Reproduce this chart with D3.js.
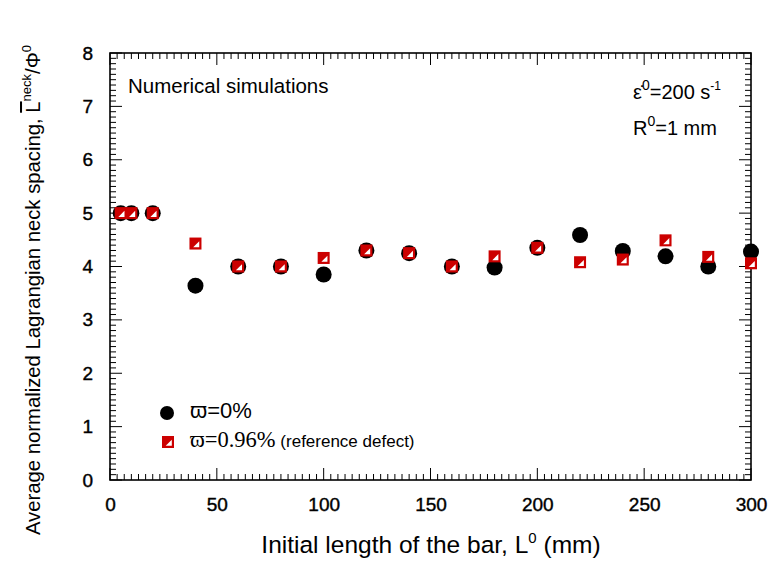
<!DOCTYPE html>
<html><head><meta charset="utf-8">
<script src="https://cdn.jsdelivr.net/npm/d3@7"></script>
<style>body{margin:0;background:#fff}svg{display:block}text{font-family:"Liberation Sans",Arial,sans-serif}</style>
</head><body><div id="c"></div>
<script>
const xValues = [5, 10, 20, 40, 60, 80, 100, 120, 140, 160, 180, 200, 220, 240, 260, 280, 300];
const series0 = [5.0, 5.0, 5.0, 3.64, 4.0, 4.0, 3.85, 4.3, 4.25, 4.0, 3.98, 4.35, 4.59, 4.29, 4.19, 4.0, 4.28];
const series096 = [5.0, 5.0, 5.0, 4.43, 4.0, 4.0, 4.16, 4.3, 4.25, 4.0, 4.19, 4.35, 4.08, 4.13, 4.49, 4.18, 4.06];
const xTicks = [0, 50, 100, 150, 200, 250, 300];
const yTicks = [0, 1, 2, 3, 4, 5, 6, 7, 8];
const legendLabels = ["\u03D6=0%", "\u03D6=0.96%"];

const W = 769, H = 561;
const svg = d3.select("#c").append("svg").attr("width", W).attr("height", H);
const L = 110, R = 751, T = 53, B = 480;
const x = d3.scaleLinear().domain([0, 300]).range([L, R]);
const y = d3.scaleLinear().domain([0, 8]).range([B, T]);
const red = "#cc0000";

// minor ticks
const xMinor = d3.range(0, 300.001, 50/15);
const yMinor = d3.range(0, 8.001, 0.1);
const tk = svg.append("g").attr("stroke", "#000").attr("stroke-width", 1);
xMinor.forEach(v => {
  const major = Math.abs(v/50 - Math.round(v/50)) < 1e-6;
  const len = major ? 12 : 6;
  tk.append("line").attr("x1", x(v)).attr("x2", x(v)).attr("y1", B).attr("y2", B - len);
  tk.append("line").attr("x1", x(v)).attr("x2", x(v)).attr("y1", T).attr("y2", T + len);
});
yMinor.forEach(v => {
  const major = Math.abs(v - Math.round(v)) < 1e-6;
  const len = major ? 12 : 6;
  tk.append("line").attr("y1", y(v)).attr("y2", y(v)).attr("x1", L).attr("x2", L + len);
  tk.append("line").attr("y1", y(v)).attr("y2", y(v)).attr("x1", R).attr("x2", R - len);
});
svg.append("rect").attr("x", L).attr("y", T).attr("width", R - L).attr("height", B - T)
  .attr("fill", "none").attr("stroke", "#000").attr("stroke-width", 1.6);

// tick labels via d3 axes (no lines)
const xAxis = svg.append("g").attr("transform", `translate(0,${B})`)
  .call(d3.axisBottom(x).tickValues(xTicks).tickSize(0).tickPadding(18));
const yAxis = svg.append("g").attr("transform", `translate(${L},0)`)
  .call(d3.axisLeft(y).tickValues(yTicks).tickSize(0).tickPadding(17));
[xAxis, yAxis].forEach(g => {
  g.select(".domain").remove();
  g.selectAll("text").attr("font-family", "Liberation Sans, Arial, sans-serif")
    .attr("font-size", 19).attr("fill", "#000").attr("stroke", "#000").attr("stroke-width", 0.4);
});

// axis titles
const xt = svg.append("text").attr("x", 431).attr("y", 553).attr("text-anchor", "middle")
  .attr("font-size", 24.5).attr("fill", "#000");
xt.append("tspan").text("Initial length of the bar, L");
xt.append("tspan").attr("dy", -10).attr("font-size", 15).text("0");
xt.append("tspan").attr("dy", 10).text(" (mm)");

const yt = svg.append("text").attr("transform", "translate(40,290) rotate(-90)")
  .attr("text-anchor", "middle").attr("font-size", 20.3).attr("fill", "#000");
yt.append("tspan").text("Average normalized Lagrangian neck spacing, ");
yt.append("tspan").attr("text-decoration", "overline").text("L");
yt.append("tspan").attr("dy", -9).attr("font-size", 13).text("neck");
yt.append("tspan").attr("dy", 9).text("/\u03A6");
yt.append("tspan").attr("dy", -9).attr("font-size", 13).text("0");

// annotations
svg.append("text").attr("x", 128).attr("y", 93).attr("font-size", 20.5).attr("fill", "#000").text("Numerical simulations");
const e = svg.append("text").attr("x", 633).attr("y", 99).attr("font-size", 20).attr("fill", "#000");
e.append("tspan").text("\u03B5\u0307");
e.append("tspan").attr("dy", -9).attr("font-size", 14).text("0");
e.append("tspan").attr("dy", 9).text("=200 s");
e.append("tspan").attr("dy", -9).attr("font-size", 12).text("-1");
const r = svg.append("text").attr("x", 633).attr("y", 135).attr("font-size", 20).attr("fill", "#000");
r.append("tspan").text("R");
r.append("tspan").attr("dy", -9).attr("font-size", 14).text("0");
r.append("tspan").attr("dy", 9).text("=1 mm");

// markers
function square(g, cx, cy, s) {
  g.append("rect").attr("x", cx - s/2).attr("y", cy - s/2).attr("width", s).attr("height", s)
    .attr("fill", red);
  const h = s/2 - 2.2;
  g.append("path").attr("d", `M${cx + h},${cy - h + 1.5}L${cx + h},${cy + h}L${cx - h + 1.5},${cy + h}Z`).attr("fill", "#fff");
}
const gc = svg.append("g");
xValues.forEach((v, i) => {
  gc.append("circle").attr("cx", x(v)).attr("cy", y(series0[i])).attr("r", 8).attr("fill", "#000");
});
const gs = svg.append("g");
xValues.forEach((v, i) => square(gs, x(v), y(series096[i]), 12));

// legend
const lg = svg.append("g");
lg.append("circle").attr("cx", 167).attr("cy", 413).attr("r", 7).attr("fill", "#000");
lg.append("text").attr("x", 190).attr("y", 418).attr("font-family", "Liberation Serif, Times New Roman, serif")
  .attr("font-size", 22).attr("fill", "#000").text(legendLabels[0]);
square(lg, 168, 442, 12);
const l2 = lg.append("text").attr("x", 190).attr("y", 447).attr("fill", "#000");
l2.append("tspan").attr("font-family", "Liberation Serif, Times New Roman, serif").attr("font-size", 22.5).text(legendLabels[1]);
l2.append("tspan").attr("font-size", 17).text(" (reference defect)");
</script></body></html>
